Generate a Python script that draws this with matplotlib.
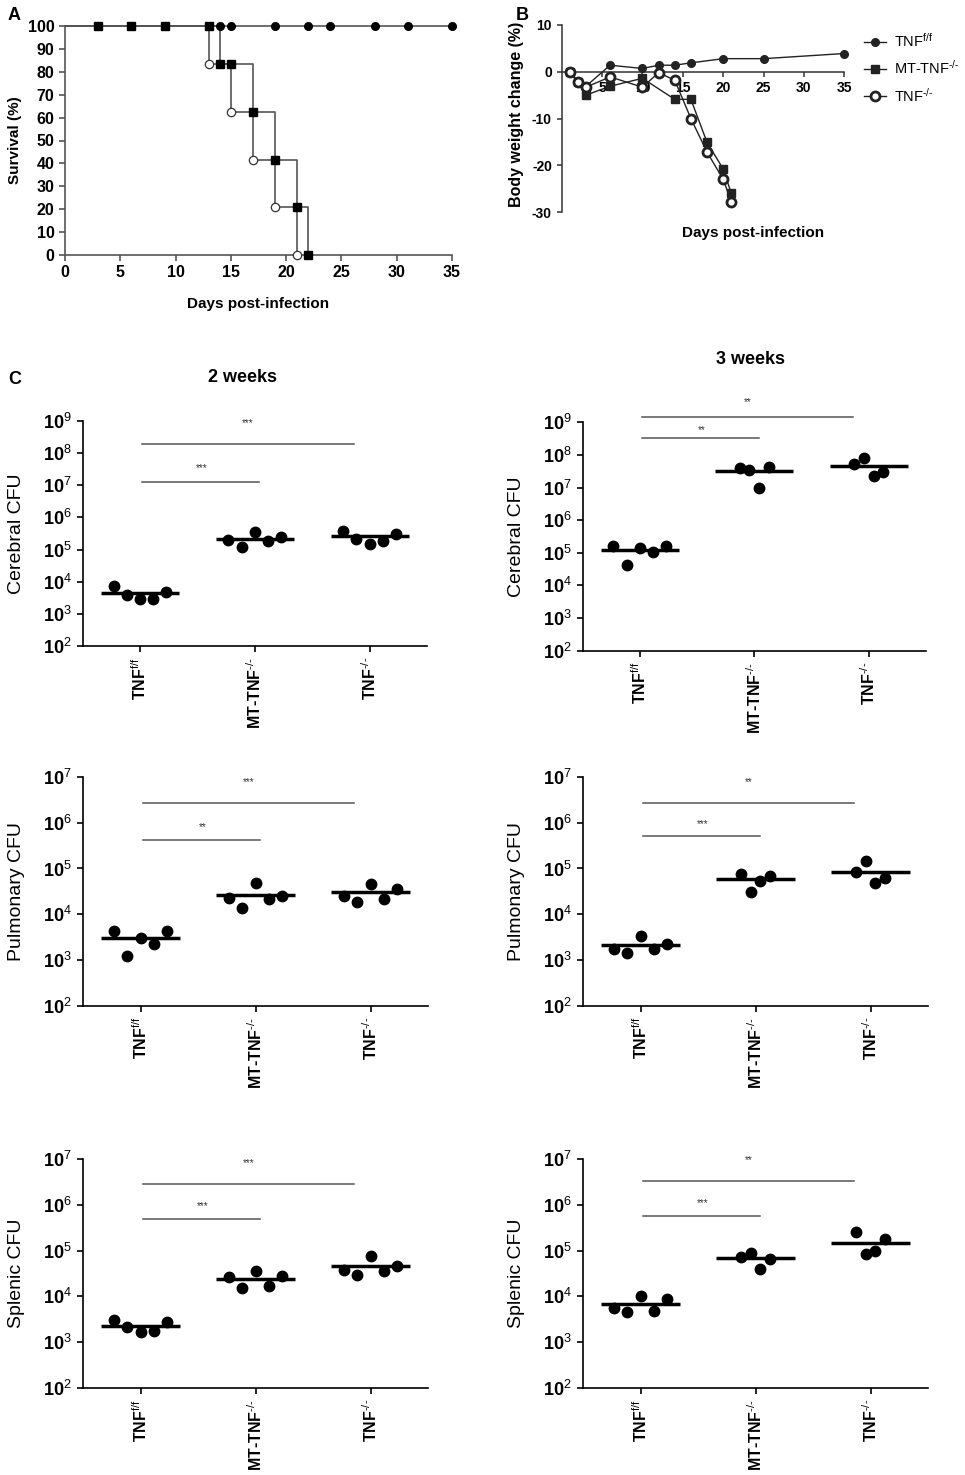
import numpy as np
import matplotlib
matplotlib.use('Agg')
import matplotlib.pyplot as plt
from matplotlib.ticker import NullLocator

plt.rcParams['font.family'] = ['Liberation Sans', 'DejaVu Sans']
plt.rcParams['mathtext.fontset'] = 'custom'
plt.rcParams['mathtext.rm'] = 'Liberation Sans'
plt.rcParams['mathtext.it'] = 'Liberation Sans:italic'
plt.rcParams['mathtext.bf'] = 'Liberation Sans:bold'
plt.rcParams['mathtext.sf'] = 'Liberation Sans'
plt.rcParams['axes.unicode_minus'] = False

# ---- A: survival (%)
ff_surv_days = [0, 35]
ff_surv = [100, 100]
ff_mark_days = [14, 15, 19, 22, 24, 28, 31, 35]
mt_surv_days = [0, 14, 17, 19, 21, 22]
mt_surv = [100, 83.3, 62.5, 41.7, 20.8, 0]
mt_mark_days = [3, 6, 9, 13, 14, 15, 17, 19, 21, 22]
ko_surv_days = [0, 13, 15, 17, 19, 21]
ko_surv = [100, 83.3, 62.5, 41.7, 20.8, 0]
ko_mark_days = [13, 15, 17, 19, 21]

# ---- B: body weight change (%)
ff_bw_days = [1, 2, 3, 6, 10, 12, 14, 16, 20, 25, 35]
ff_bw = [0, -2.1, -3.1, 1.4, 0.7, 1.4, 1.4, 1.9, 2.8, 2.8, 3.9]
mt_bw_days = [1, 2, 3, 6, 10, 14, 16, 18, 20, 21]
mt_bw = [0, -2.2, -5.0, -3.1, -1.4, -5.9, -5.9, -15.1, -20.8, -26.0]
ko_bw_days = [1, 2, 3, 6, 10, 12, 14, 16, 18, 20, 21]
ko_bw = [0, -2.2, -3.3, -1.1, -3.3, -0.2, -1.8, -10.0, -17.2, -23.0, -27.8]

# ---- C: CFU per group (points left to right) and centre line
groups = [r'TNF$^{\text{f/f}}$', r'MT-TNF$^{\text{-/-}}$', r'TNF$^{\text{-/-}}$']

cereb2_ff = [7.1e3, 3.9e3, 2.8e3, 3.0e3, 4.9e3]
cereb2_mt = [2.0e5, 1.2e5, 3.5e5, 1.8e5, 2.5e5]
cereb2_ko = [3.9e5, 2.2e5, 1.5e5, 1.9e5, 3.1e5]
cereb2_line = [4.4e3, 2.2e5, 2.6e5]
cereb3_ff = [1.6e5, 4.2e4, 1.37e5, 1.05e5, 1.66e5]
cereb3_mt = [4.1e7, 3.5e7, 1.0e7, 4.4e7]
cereb3_ko = [5.4e7, 7.9e7, 2.25e7, 3.1e7]
cereb3_line = [1.2e5, 3.3e7, 4.7e7]

pulm2_ff = [4.3e3, 1.2e3, 3.0e3, 2.2e3, 4.4e3]
pulm2_mt = [2.3e4, 1.4e4, 4.9e4, 2.2e4, 2.5e4]
pulm2_ko = [2.5e4, 1.85e4, 4.6e4, 2.1e4, 3.6e4]
pulm2_line = [3.0e3, 2.6e4, 3.0e4]
pulm3_ff = [1.7e3, 1.45e3, 3.3e3, 1.7e3, 2.2e3]
pulm3_mt = [7.7e4, 3.0e4, 5.3e4, 6.7e4]
pulm3_ko = [8.2e4, 1.44e5, 4.9e4, 6.3e4]
pulm3_line = [2.1e3, 5.9e4, 8.5e4]

splen2_ff = [3.1e3, 2.1e3, 1.66e3, 1.78e3, 2.7e3]
splen2_mt = [2.6e4, 1.5e4, 3.6e4, 1.7e4, 2.8e4]
splen2_ko = [3.7e4, 3.0e4, 7.7e4, 3.6e4, 4.5e4]
splen2_line = [2.3e3, 2.45e4, 4.5e4]
splen3_ff = [5.5e3, 4.5e3, 1.0e4, 4.9e3, 8.7e3]
splen3_mt = [7.2e4, 8.8e4, 4.0e4, 6.6e4]
splen3_ko = [2.5e5, 8.3e4, 1.0e5, 1.8e5]
splen3_line = [6.8e3, 6.8e4, 1.5e5]

# significance: (vs MT-TNF, vs TNF-/-)
cereb2_sig = ['***', '***']
cereb3_sig = ['**', '**']
pulm2_sig = ['**', '***']
pulm3_sig = ['***', '**']
splen2_sig = ['***', '***']
splen3_sig = ['***', '**']

W, H = 965, 1475
fig = plt.figure(figsize=(W / 100, H / 100), dpi=100)


def add_ax(x0, y0, x1, y1):
    return fig.add_axes([x0 / W, 1 - y1 / H, (x1 - x0) / W, (y1 - y0) / H])


def surv_at(d, days, surv):
    idx = np.searchsorted(days, d, side='right') - 1
    return np.asarray(surv)[idx]


gray = '#555555'

# ---------------- A
axA = add_ax(65, 26, 452, 255)
axA.step(ff_surv_days, ff_surv, where='post', color=gray, lw=1.2, clip_on=False)
axA.step(mt_surv_days, mt_surv, where='post', color=gray, lw=1.2, clip_on=False)
axA.step(ko_surv_days, ko_surv, where='post', color=gray, lw=1.2, clip_on=False)
axA.plot(ff_mark_days, surv_at(ff_mark_days, ff_surv_days, ff_surv), 'o',
         color='black', ms=5.5, clip_on=False, zorder=3)
axA.plot(mt_mark_days, surv_at(mt_mark_days, mt_surv_days, mt_surv), 's',
         color='black', ms=6, clip_on=False, zorder=3)
axA.plot(ko_mark_days, surv_at(ko_mark_days, ko_surv_days, ko_surv), 'o',
         mfc='white', mec='#333333', mew=0.9, ms=6, clip_on=False, zorder=3)
axA.set_xlim(0, 35)
axA.set_ylim(0, 100)
axA.set_xticks(range(0, 36, 5))
axA.set_yticks(range(0, 101, 10))
for s in ['top', 'right']:
    axA.spines[s].set_visible(False)
for s in ['left', 'bottom']:
    axA.spines[s].set_color(gray)
    axA.spines[s].set_linewidth(1.2)
axA.tick_params(direction='out', length=4, width=1.2, color=gray, labelsize=11.5)
for lab in axA.get_xticklabels() + axA.get_yticklabels():
    lab.set_fontweight('bold')
axA.set_ylabel('Survival (%)', fontsize=11, fontweight='bold')
axA.yaxis.set_label_coords(-0.111, 0.5)
axA.set_xlabel('Days post-infection', fontsize=11, fontweight='bold')
axA.xaxis.set_label_coords(0.5, -0.183)

# ---------------- B
axB = add_ax(561.7, 25, 844.3, 212)
hf, = axB.plot(ff_bw_days, ff_bw, '-o', color='#222222', lw=1, ms=5.5, clip_on=False, zorder=3)
hm, = axB.plot(mt_bw_days, mt_bw, '-s', color='#222222', lw=1, ms=5.5, clip_on=False, zorder=3)
hk, = axB.plot(ko_bw_days, ko_bw, '-o', color='#222222', lw=1, ms=6.5, mfc='white',
               mew=2, clip_on=False, zorder=4)
axB.set_xlim(0, 35)
axB.set_ylim(-30, 10)
axB.spines['bottom'].set_position(('data', 0))
for s in ['top', 'right']:
    axB.spines[s].set_visible(False)
for s in ['left', 'bottom']:
    axB.spines[s].set_color('#333333')
    axB.spines[s].set_linewidth(1.1)
axB.set_xticks(range(5, 36, 5))
axB.set_yticks([10, 0, -10, -20, -30])
axB.tick_params(direction='out', length=3.5, width=1.1, color='#333333', labelsize=10)
for lab in axB.get_xticklabels() + axB.get_yticklabels():
    lab.set_fontweight('bold')
axB.set_ylabel('Body weight change (%)', fontsize=11.5, fontweight='bold')
axB.yaxis.set_label_coords(-0.135, 0.52)
axB.text(0.677, -0.112, 'Days post-infection', transform=axB.transAxes,
         ha='center', va='center', fontsize=11, fontweight='bold')

fig.legend([hf, hm, hk], groups, loc='upper left', bbox_to_anchor=(858 / W, 1 - 26 / H),
           frameon=False, fontsize=10.5, handlelength=1.5, labelspacing=0.65,
           handletextpad=0.6, borderaxespad=0)

# ---------------- C
def spread(n):
    step = 0.115 if n >= 5 else 0.085
    return (np.arange(n) - (n - 1) / 2) * step


def cfu_panel(box, series, centre, sig, bar_y, star_y, top, ylabel):
    ax = add_ax(*box)
    for i, vals in enumerate(series):
        ax.plot(i + spread(len(vals)), vals, 'o', color='black', ms=7.5,
                clip_on=False, zorder=3)
        ax.hlines(centre[i], i - 0.34, i + 0.34, color='black', lw=2.5, zorder=2)
    ends = [1.04, 1.86]
    starx = [0.54, 0.94]
    for k in range(2):
        ax.plot([0.02, ends[k]], [bar_y[k]] * 2, color=gray, lw=1.1, clip_on=False)
        ax.text(starx[k], star_y[k], sig[k], ha='center', va='center',
                fontsize=7, color='#333333')
    ax.set_yscale('log')
    ax.set_ylim(1e2, 10 ** top)
    ax.set_xlim(-0.5, 2.5)
    dec = list(range(2, top + 1))
    ax.set_yticks([10.0 ** d for d in dec])
    ax.set_yticklabels(['10$^{%d}$' % d for d in dec], fontweight='bold', fontsize=13)
    ax.yaxis.set_minor_locator(NullLocator())
    ax.set_xticks(range(3))
    ax.set_xticklabels(groups, rotation=90, fontweight='bold', fontsize=11.5)
    for s in ['top', 'right']:
        ax.spines[s].set_visible(False)
    for s in ['left', 'bottom']:
        ax.spines[s].set_linewidth(1.2)
    ax.tick_params(direction='out', length=4.5, width=1.2)
    ax.set_ylabel(ylabel, fontsize=14)
    ax.yaxis.set_label_coords(-0.167, 0.5)
    return ax


cfu_panel((82.5, 421, 427, 646), [cereb2_ff, cereb2_mt, cereb2_ko], cereb2_line,
          cereb2_sig, [10 ** 7.11, 10 ** 8.28], [10 ** 7.53, 10 ** 8.93], 9, 'Cerebral CFU')
cfu_panel((582.5, 422.3, 926, 650.7), [cereb3_ff, cereb3_mt, cereb3_ko], cereb3_line,
          cereb3_sig, [10 ** 8.51, 10 ** 9.17], [10 ** 8.76, 10 ** 9.63], 9, 'Cerebral CFU')
cfu_panel((83, 777, 428, 1005.7), [pulm2_ff, pulm2_mt, pulm2_ko], pulm2_line,
          pulm2_sig, [10 ** 5.62, 10 ** 6.44], [10 ** 5.91, 10 ** 6.89], 7, 'Pulmonary CFU')
cfu_panel((583, 777, 928, 1005.7), [pulm3_ff, pulm3_mt, pulm3_ko], pulm3_line,
          pulm3_sig, [10 ** 5.70, 10 ** 6.44], [10 ** 5.98, 10 ** 6.89], 7, 'Pulmonary CFU')
cfu_panel((83, 1159, 428, 1388), [splen2_ff, splen2_mt, splen2_ko], splen2_line,
          splen2_sig, [10 ** 5.69, 10 ** 6.45], [10 ** 5.98, 10 ** 6.91], 7, 'Splenic CFU')
cfu_panel((583, 1159, 928, 1388), [splen3_ff, splen3_mt, splen3_ko], splen3_line,
          splen3_sig, [10 ** 5.76, 10 ** 6.52], [10 ** 6.03, 10 ** 6.98], 7, 'Splenic CFU')

fig.text(243 / W, 1 - 378 / H, '2 weeks', ha='center', va='center', fontsize=13, fontweight='bold')
fig.text(750 / W, 1 - 360 / H, '3 weeks', ha='center', va='center', fontsize=13, fontweight='bold')
fig.text(8 / W, 1 - 15 / H, 'A', ha='left', va='center', fontsize=13, fontweight='bold')
fig.text(516 / W, 1 - 15 / H, 'B', ha='left', va='center', fontsize=13, fontweight='bold')
fig.text(8 / W, 1 - 380 / H, 'C', ha='left', va='center', fontsize=13, fontweight='bold')

fig.savefig('out.png', dpi=100)
